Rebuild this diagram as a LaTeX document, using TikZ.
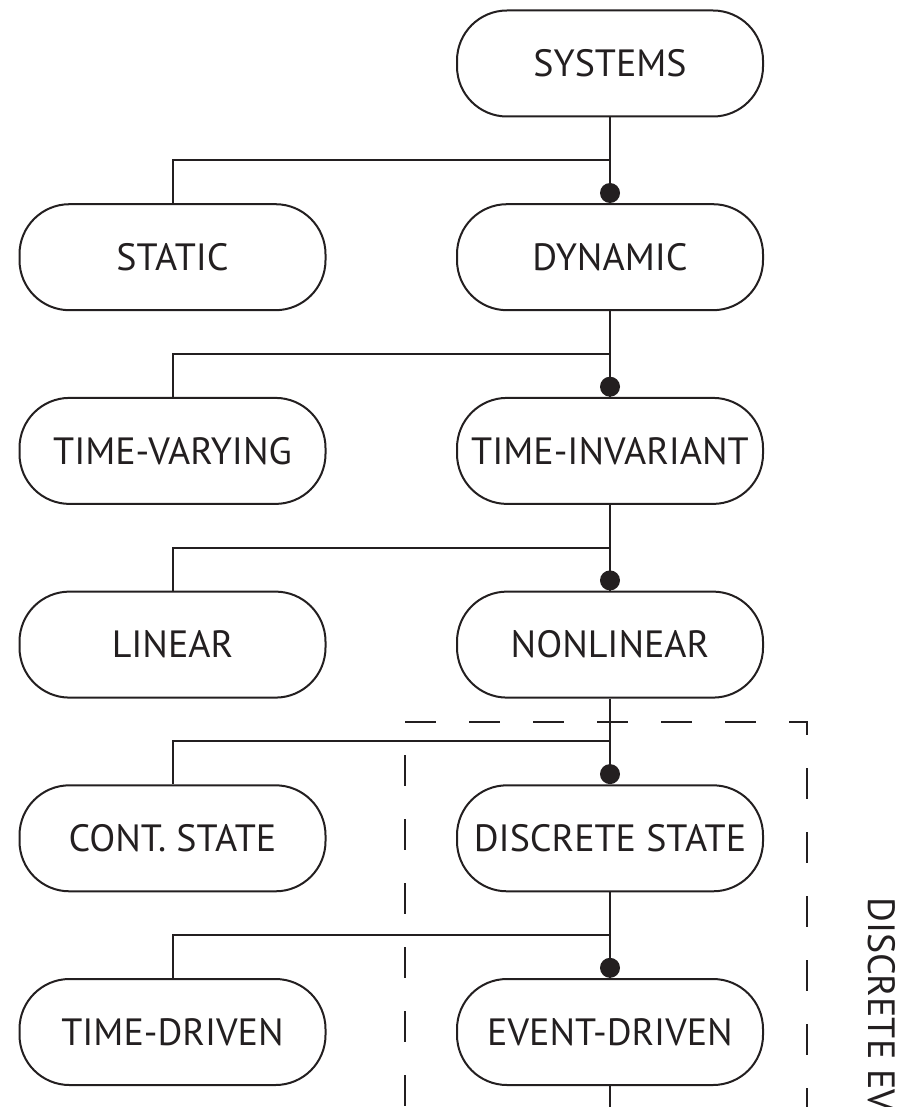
\documentclass[tikz,border=0pt]{standalone}
\usepackage{fontspec}
\setmainfont{PT Sans}
\usetikzlibrary{calc}
\definecolor{ink}{HTML}{231F20}
\begin{document}
\begin{tikzpicture}[x=1pt,y=-1pt,
  sysbox/.style={draw=ink,line width=2pt,rectangle,rounded corners=50pt,
    minimum width=306pt,minimum height=106pt,inner sep=0pt,
    font=\fontsize{38}{40}\selectfont,text=ink},
  joint/.style={circle,fill=ink,draw=none,minimum size=20pt,inner sep=0pt,anchor=south},
  link/.style={line width=2pt,draw=ink},
  groupline/.style={line width=2pt,draw=ink,dash pattern=on 31pt off 33pt}]
\useasboundingbox (0,0) rectangle (903,1107);
\clip (0,0) rectangle (903,1107);

% classification tree: one column of refinements on the right
\node[sysbox] (sys)  at (610,63.5)   {SYSTEMS};
\node[sysbox] (stat) at (172.5,257.2) {STATIC};
\node[sysbox] (dyn)  at (610,257.2)   {DYNAMIC};
\node[sysbox] (tv)   at (172.5,450.9) {TIME-VARYING};
\node[sysbox] (ti)   at (610,450.9)   {TIME-INVARIANT};
\node[sysbox] (lin)  at (172.5,644.6) {LINEAR};
\node[sysbox] (nl)   at (610,644.6)   {NONLINEAR};
\node[sysbox] (cs)   at (172.5,838.3) {CONT. STATE};
\node[sysbox] (ds)   at (610,838.3)   {DISCRETE STATE};
\node[sysbox] (td)   at (172.5,1032)  {TIME-DRIVEN};
\node[sysbox] (ed)   at (610,1032)    {EVENT-DRIVEN};

% dashed frame around the discrete-event branch
\coordinate (fTL) at (405,722);
\coordinate (fTR) at (807,722);
\coordinate (fBL) at (405,1125);
\coordinate (fBR) at (807,1125);
\draw[groupline] (fTL) -- (fTR) -- (fBR);
\draw[groupline,dash phase=31pt] (fTL) -- (fBL);

% branches: parent, left child, right child
\foreach \p/\l/\r in {sys/stat/dyn, dyn/tv/ti, ti/lin/nl, nl/cs/ds, ds/td/ed}{
  \coordinate (j-\r) at ($(\p.south)!0.5!(\r.north)$);
  \draw[link] (\p.south) -- (\r.north);
  \draw[link] (j-\r) -| (\l.north);
  \node[joint] (dot-\r) at (\r.north) {};
}

\coordinate (tail) at (610,1125);
\draw[link] (ed.south) -- (tail);

\node[rotate=-90,anchor=base west,inner sep=0pt,text=ink,
  font=\fontsize{38}{40}\selectfont] (del) at (868,897) {DISCRETE EV};
\end{tikzpicture}
\end{document}
